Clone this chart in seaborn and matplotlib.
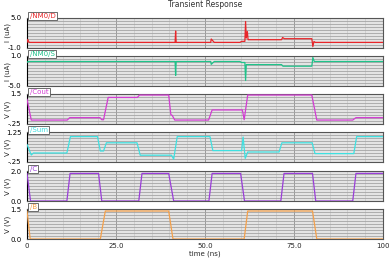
import numpy as np
import pandas as pd
import seaborn as sns
import matplotlib.pyplot as plt
from matplotlib.ticker import MultipleLocator, FixedLocator

# --- signal breakpoints (time in ns) ---
d_t = [0, 0.2, 0.6, 41.6, 41.75, 41.9, 51.6, 51.75, 52.6, 59.8, 60.3, 61.2, 61.4, 61.6, 61.9,
       62.1, 62.5, 71.5, 71.8, 72.3, 80.0, 80.3, 80.6, 81.0, 100]
d_v = [0.12, 0.7, 0.12, 0.12, 2.4, 0.12, 0.12, 0.8, 0.12, 0.12, 0.33, 0.33, 4.3, 1.0, 2.3,
       0.66, 0.66, 0.66, 1.1, 0.86, 0.86, -0.7, 0.3, 0.12, 0.12]

s_t = [0, 0.3, 41.6, 41.75, 41.9, 51.6, 51.75, 52.6, 59.8, 60.3, 61.2, 61.4, 61.6, 62.0,
       71.5, 71.9, 80.0, 80.3, 80.7, 100]
s_v = [-0.3, -0.1, -0.1, -2.9, -0.1, -0.1, -0.67, -0.1, -0.1, -0.3, -0.3, -3.9, -0.72, -0.72,
       -0.72, -1.04, -1.04, 0.7, -0.1, -0.1]

cout_t = [0, 1.2, 11.3, 12.0, 20.5, 21.0, 21.5, 22.8, 31.0, 31.6, 39.8, 40.4, 40.8, 41.5,
          51.0, 52.0, 60.5, 61.0, 62.0, 80.0, 81.4, 91.5, 92.4, 100]
cout_v = [1.2, -0.02, -0.02, 0.12, 0.12, 0.0, 0.0, 1.3, 1.3, 1.44, 1.44, 0.3, 0.25, -0.02,
          -0.02, 0.57, 0.57, 0.0, 1.44, 1.44, -0.02, -0.02, 0.12, 0.12]

sum_t = [0, 1.2, 1.8, 11.2, 12.2, 19.8, 20.6, 21.5, 22.3, 30.9, 31.8, 40.6, 41.2, 42.2, 51.4,
         52.2, 60.3, 60.7, 61.3, 62.0, 70.8, 71.6, 80.1, 80.9, 91.8, 92.6, 100]
sum_v = [0.63, 0.1, 0.2, 0.2, 1.02, 1.02, 0.3, 0.3, 0.71, 0.71, 0.09, 0.09, -0.11, 1.02, 1.02,
         0.32, 0.32, 1.0, -0.07, 0.25, 0.25, 0.71, 0.71, 0.17, 0.17, 1.02, 1.02]

c_t = [0, 1, 11.2, 12.1, 20.1, 21, 31.4, 32.3, 39.8, 41.2, 51.1, 52, 60, 61.1, 71.3, 72.2,
       80.2, 81.1, 91.5, 92.4, 100]
c_v = [1.84, 0, 0, 1.84, 1.84, 0, 0, 1.84, 1.84, 0, 0, 1.84, 1.84, 0, 0, 1.84,
       1.84, 0, 0, 1.84, 1.84]

b_t = [0, 0.9, 20.6, 22.0, 39.8, 41.0, 61.0, 62.0, 80.2, 81.4, 100]
b_v = [1.4, 0, 0, 1.4, 1.4, 0, 0, 1.4, 1.4, 0, 0]

names = ["/NM0/D", "/NM0/S", "/Cout", "/Sum", "/C", "/B"]
colors = ["#e8262a", "#1fc38a", "#d23cd2", "#3fe0e0", "#9a3ed8", "#f4a04a"]
ylabels = ["I (uA)", "I (uA)", "V (V)", "V (V)", "V (V)", "V (V)"]
ylims = [(-1.0, 5.0), (-5.0, 1.0), (-0.25, 1.5), (-0.25, 1.25), (0.0, 2.0), (0.0, 1.5)]
yticklabels = [("-1.0", "5.0"), ("-5.0", "1.0"), ("-.25", "1.5"), ("-.25", "1.25"),
               ("0.0", "2.0"), ("0.0", "1.5")]
series = [(d_t, d_v), (s_t, s_v), (cout_t, cout_v), (sum_t, sum_v), (c_t, c_v), (b_t, b_v)]
xticks = [0, 25, 50, 75, 100]
xticklabels = ["0", "25.0", "50.0", "75.0", "100"]

sns.set_style("white")
plt.rcParams["font.family"] = ["DejaVu Sans"]

W, H = 390, 262
fig = plt.figure(figsize=(W / 100, H / 100), dpi=100)

tops = [18, 56, 94, 132, 171, 209]
ph = 30
left, right = 27, 383

for i, (name, col) in enumerate(zip(names, colors)):
    top = tops[i]
    ax = fig.add_axes([left / W, 1 - (top + ph) / H, (right - left) / W, ph / H])
    ax.set_facecolor("#e4e4e4")
    t, v = series[i]
    df = pd.DataFrame({"t": t, "v": v})
    sns.lineplot(data=df, x="t", y="v", ax=ax, color=col, lw=0.9,
                 estimator=None, sort=False, zorder=5)
    lo, hi = ylims[i]
    ax.set_xlim(0, 100)
    ax.set_ylim(lo, hi)

    # horizontal grid at minor divisions
    ax.yaxis.set_major_locator(FixedLocator([lo, hi]))
    ax.set_yticklabels([yticklabels[i][0], yticklabels[i][1]])
    ax.yaxis.set_minor_locator(FixedLocator(np.linspace(lo, hi, 11)[1:-1]))
    ax.grid(True, axis="y", which="minor", color="#a4a4a4", lw=0.6)
    ax.xaxis.set_major_locator(FixedLocator(xticks))
    ax.xaxis.set_minor_locator(MultipleLocator(5))
    ax.grid(True, axis="x", which="minor", color="#c8c8c8", lw=0.5)
    ax.grid(True, axis="x", which="major", color="#8e8e8e", lw=0.6)
    ax.set_axisbelow(True)

    ax.tick_params(axis="y", which="major", length=3, width=0.6, pad=1,
                   labelsize=5, colors="black", direction="out")
    ax.tick_params(axis="y", which="minor", length=2, width=0.6, direction="out")
    ax.tick_params(axis="x", which="both", length=1.5, width=0.5, direction="in")
    if i == len(names) - 1:
        ax.set_xticklabels(xticklabels)
        ax.tick_params(axis="x", which="major", labelsize=5, pad=3)
        ax.set_xlabel("time (ns)", fontsize=5, labelpad=1)
    else:
        ax.set_xticklabels([])
        ax.set_xlabel("")
    ax.set_ylabel("")

    for sp in ax.spines.values():
        sp.set_color("#555555")
        sp.set_linewidth(0.8)
    ax.spines["left"].set_color("black")

    # label tab sitting on the top border
    ax.annotate(name, xy=(0, 1), xycoords="axes fraction", xytext=(2, 1.5),
                textcoords="offset points", ha="left", va="center",
                fontsize=5, color=col, zorder=10, annotation_clip=False,
                bbox=dict(boxstyle="square,pad=0.2", fc="white", ec="#555555", lw=0.6))

    fig.text(8 / W, 1 - (top + ph / 2) / H, ylabels[i], rotation=90,
             ha="center", va="center", fontsize=5)

fig.text((left + right) / 2 / W, 1 - 4.5 / H, "Transient Response", ha="center",
         va="center", fontsize=5.5, color="#333333")

fig.savefig("out.png", dpi=100)
